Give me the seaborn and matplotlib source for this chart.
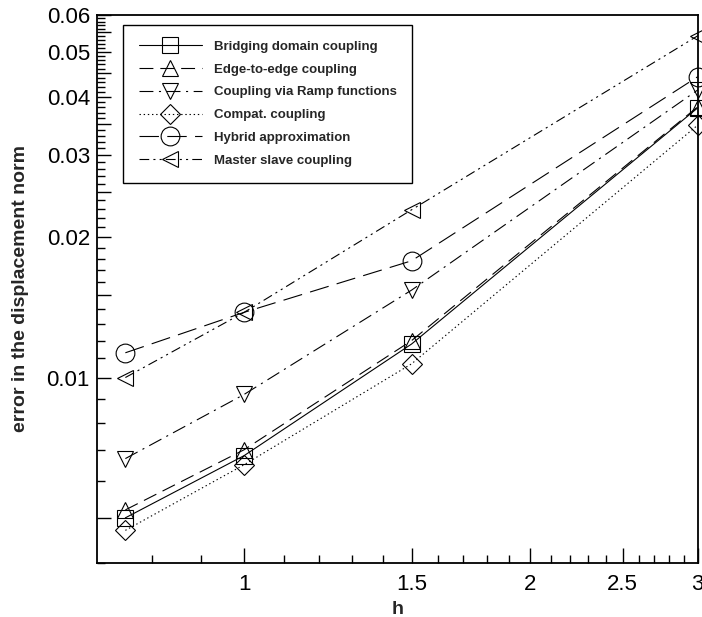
import numpy as np
import pandas as pd
import matplotlib
matplotlib.use("Agg")
import matplotlib.pyplot as plt
import seaborn as sns
from matplotlib.ticker import FixedLocator, FuncFormatter, NullFormatter

# mesh size h and error values
h = [0.75, 1.0, 1.5, 3.0]
bridging = [0.0050, 0.0068, 0.0118, 0.0379]
edge = [0.0052, 0.0070, 0.0120, 0.0381]
ramp = [0.0067, 0.0092, 0.0154, 0.0414]
compat = [0.0047, 0.0065, 0.0107, 0.0348]
hybrid = [0.0113, 0.0138, 0.0178, 0.0442]
master = [0.0100, 0.0138, 0.0229, 0.0541]

labels = ['Bridging domain coupling', 'Edge-to-edge coupling',
          'Coupling via Ramp functions', 'Compat. coupling',
          'Hybrid approximation', 'Master slave coupling']
series = [bridging, edge, ramp, compat, hybrid, master]

x_major = [1, 1.5, 2, 2.5, 3]
y_labelled = [0.01, 0.02, 0.03, 0.04, 0.05, 0.06]

sns.set_theme(style='white')
plt.rcParams['font.family'] = ['Liberation Sans', 'DejaVu Sans']
plt.rcParams['lines.scale_dashes'] = False

styles = [
    dict(marker='s', ms=11, linestyle='-'),
    dict(marker='^', ms=12, linestyle=(0, (10, 5))),
    dict(marker='v', ms=12, linestyle=(0, (10, 4, 1.5, 4))),
    dict(marker='D', ms=10.5, linestyle=(0, (1, 2))),
    dict(marker='o', ms=13.5, linestyle=(0, (14, 6))),
    dict(marker='<', ms=12, linestyle=(0, (7, 3, 1.5, 3, 1.5, 3))),
]

fig, ax = plt.subplots(figsize=(7.02, 6.17), dpi=100)
fig.subplots_adjust(left=0.138, right=0.994, top=0.976, bottom=0.0875)
ax.set_xscale('log')
ax.set_yscale('log')

for lab, vals, st in zip(labels, series, styles):
    df = pd.DataFrame({'h': h, 'err': vals})
    sns.lineplot(data=df, x='h', y='err', ax=ax, color='black', lw=0.8,
                 marker=st['marker'], markersize=st['ms'],
                 linestyle=st['linestyle'], markerfacecolor='none',
                 markeredgecolor='black', markeredgewidth=0.8,
                 label=lab, clip_on=False)

ax.set_xlim(0.7, 3)
ax.set_ylim(0.004, 0.06)

# ticks
x_minor = [v for v in np.round(np.arange(0.8, 3.0, 0.1), 1) if v not in x_major]
ax.xaxis.set_major_locator(FixedLocator(x_major))
ax.xaxis.set_minor_locator(FixedLocator(x_minor))
ax.xaxis.set_major_formatter(FuncFormatter(lambda v, p: f'{v:g}'))
ax.xaxis.set_minor_formatter(NullFormatter())

y_major = list(np.round(np.arange(0.005, 0.0601, 0.005), 3))
y_minor = [v for v in np.round(np.arange(0.004, 0.0601, 0.001), 3) if v not in y_major]
ax.yaxis.set_major_locator(FixedLocator(y_major))
ax.yaxis.set_minor_locator(FixedLocator(y_minor))
ax.yaxis.set_major_formatter(FuncFormatter(
    lambda v, p: f'{v:g}' if any(abs(v - t) < 1e-9 for t in y_labelled) else ''))
ax.yaxis.set_minor_formatter(NullFormatter())

ax.tick_params(which='both', direction='in', colors='black', width=1,
               bottom=True, left=True, top=False, right=False, labelsize=16)
ax.tick_params(axis='x', which='major', length=11, pad=8)
ax.tick_params(axis='y', which='major', length=10, pad=5)
ax.tick_params(which='minor', length=5.5)

for s in ax.spines.values():
    s.set_color('black')
    s.set_linewidth(1.3)

ax.set_xlabel('h', fontsize=14, fontweight='bold')
ax.set_ylabel('error in the displacement norm', fontsize=14, fontweight='bold')
ax.xaxis.set_label_coords(0.5, -0.07)
ax.yaxis.set_label_coords(-0.113, 0.5)

leg = ax.legend(loc='upper left', bbox_to_anchor=(0.043, 0.982),
                borderaxespad=0, prop={'weight': 'bold', 'size': 9.5},
                frameon=True, fancybox=False, framealpha=1, edgecolor='black',
                borderpad=1.2, handlelength=4.8, handletextpad=0.9,
                labelspacing=0.8, numpoints=1)
leg.get_frame().set_linewidth(1.0)

fig.savefig('out.png', dpi=100)
